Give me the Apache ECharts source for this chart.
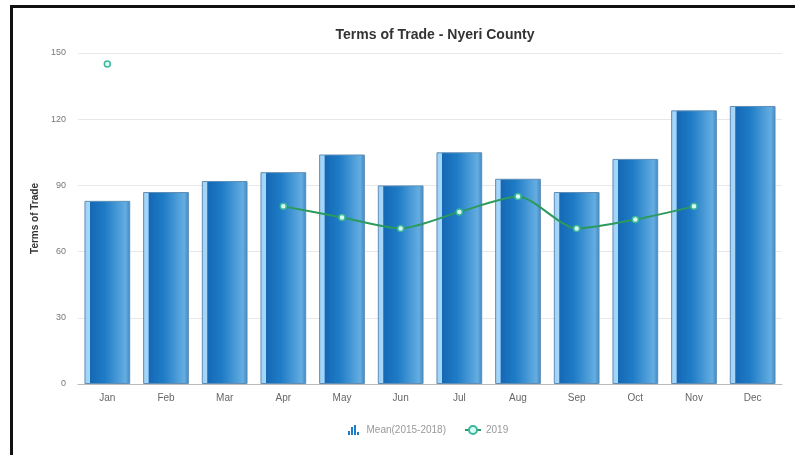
<!DOCTYPE html>
<html>
<head>
<meta charset="utf-8">
<script src="https://cdn.jsdelivr.net/npm/echarts@6/dist/echarts.min.js"></script>
<style>
  html, body { margin: 0; padding: 0; background: #fff; }
  #frame { position: absolute; left: 10px; top: 5px; width: 785px; height: 450px;
           border-left: 3px solid #111; border-top: 3px solid #111; box-sizing: border-box; }
  #chart { position: absolute; left: 0; top: 0; width: 795px; height: 455px; }
</style>
</head>
<body>
<div id="frame"></div>
<div id="chart"></div>
<script>
// Monthly terms of trade, Nyeri County
const months = ['Jan', 'Feb', 'Mar', 'Apr', 'May', 'Jun', 'Jul', 'Aug', 'Sep', 'Oct', 'Nov', 'Dec'];
const meanValues = [83, 87, 92, 96, 104, 90, 105, 93, 87, 102, 124, 126];
const values2019 = [145, null, null, 80.5, 75.5, 70.5, 78, 85, 70.5, 74.5, 80.5, null];
const yTicks = [0, 30, 60, 90, 120, 150];

const barFill = new echarts.graphic.LinearGradient(0, 0, 1, 0, [
  { offset: 0, color: '#9fd0f4' },
  { offset: 0.11, color: '#a8d8f8' },
  { offset: 0.13, color: '#1568b5' },
  { offset: 0.45, color: '#1f7cc6' },
  { offset: 0.9, color: '#64ade0' },
  { offset: 1, color: '#3f86c2' }
]);

const chart = echarts.init(document.getElementById('chart'));
chart.setOption({
  animation: false,
  textStyle: { fontFamily: 'Liberation Sans, Arial, sans-serif' },
  title: {
    text: 'Terms of Trade - Nyeri County',
    left: 430, top: 23, textAlign: 'center',
    textStyle: { fontSize: 14, fontWeight: 'bold', color: '#333' }
  },
  legend: {
    top: 420, left: 343,
    itemGap: 18, itemWidth: 16, itemHeight: 10,
    textStyle: { fontSize: 10, color: '#999' },
    data: [
      {
        name: 'Mean(2015-2018)',
        icon: 'path://M0,6 L2,6 L2,10 L0,10 Z M3,2 L5,2 L5,10 L3,10 Z M6,0 L8,0 L8,10 L6,10 Z M9,7 L11,7 L11,10 L9,10 Z',
        itemStyle: { color: '#1f7cc6', borderWidth: 0 }
      },
      { name: '2019' }
    ]
  },
  grid: { left: 78, right: 13, top: 53, bottom: 71 },
  xAxis: {
    type: 'category',
    data: months,
    axisTick: { show: false },
    axisLine: { lineStyle: { color: '#bbb' } },
    axisLabel: { fontSize: 10, color: '#666', margin: 9 }
  },
  yAxis: {
    type: 'value',
    min: yTicks[0], max: yTicks[yTicks.length - 1], interval: 30,
    name: 'Terms of Trade',
    nameLocation: 'middle', nameGap: 36,
    nameTextStyle: { fontSize: 10, fontWeight: 'bold', color: '#333' },
    axisLabel: { fontSize: 9, color: '#777', margin: 12 },
    splitLine: { lineStyle: { color: '#e8e8e8' } },
    axisLine: { show: false }, axisTick: { show: false }
  },
  series: [
    {
      name: 'Mean(2015-2018)',
      type: 'bar',
      data: meanValues,
      barWidth: '78%',
      itemStyle: { color: barFill, borderColor: '#5f8fb8', borderWidth: 1 }
    },
    {
      name: '2019',
      type: 'line',
      data: values2019,
      smooth: 0.25,
      connectNulls: false,
      symbol: 'circle', symbolSize: 6, showSymbol: true,
      lineStyle: { color: '#2b9a5c', width: 2 },
      itemStyle: { color: '#d6fbf3', borderColor: '#3db59c', borderWidth: 1.5 }
    }
  ]
});
</script>
</body>
</html>
